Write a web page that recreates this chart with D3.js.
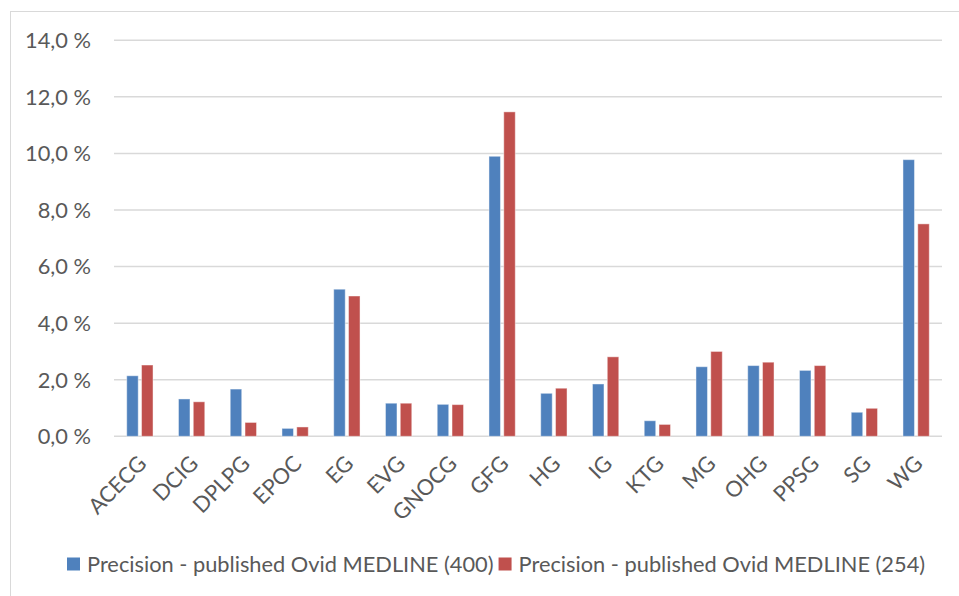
<!DOCTYPE html>
<html>
<head>
<meta charset="utf-8">
<script src="https://cdn.jsdelivr.net/npm/d3@7"></script>
<style>
  html, body { margin: 0; padding: 0; background: #fff; }
  svg { display: block; }
  text { font-family: Lato, "Open Sans", sans-serif; fill: #595959; }
</style>
</head>
<body>
<svg id="chart" width="959" height="596"></svg>
<script>
const categories = ["ACECG","DCIG","DPLPG","EPOC","EG","EVG","GNOCG","GFG","HG","IG","KTG","MG","OHG","PPSG","SG","WG"];
const seriesNames = ["Precision - published Ovid MEDLINE (400)", "Precision - published Ovid MEDLINE (254)"];
const series400 = [2.14, 1.32, 1.67, 0.28, 5.20, 1.17, 1.13, 9.90, 1.52, 1.85, 0.55, 2.46, 2.50, 2.33, 0.85, 9.78];
const series254 = [2.52, 1.22, 0.49, 0.33, 4.96, 1.17, 1.12, 11.47, 1.70, 2.81, 0.42, 3.00, 2.62, 2.50, 0.99, 7.51];
const yTicks = [0, 2, 4, 6, 8, 10, 12, 14];
const colors = ["#4F81BD", "#C0504D"];

const svg = d3.select("#chart");
const plot = { left: 114, right: 942, top: 40.3, bottom: 436.3 };
const FS = 21.8;

// chart area border (top and left visible)
svg.append("rect")
  .attr("x", 10.5).attr("y", 11.5)
  .attr("width", 960).attr("height", 600)
  .attr("fill", "none").attr("stroke", "#D9D9D9").attr("stroke-width", 1);

const y = d3.scaleLinear().domain([0, 14]).range([plot.bottom, plot.top]);
const x0 = d3.scaleBand().domain(categories).range([plot.left, plot.right]).padding(0);
const x1 = d3.scaleBand().domain([0, 1]).range([0, x0.bandwidth()])
  .paddingInner(0.223).paddingOuter(0.86);

// gridlines
svg.append("g").selectAll("line").data(yTicks).join("line")
  .attr("x1", plot.left).attr("x2", plot.right)
  .attr("y1", d => y(d)).attr("y2", d => y(d))
  .attr("stroke", "#D9D9D9").attr("stroke-width", 1.5);

// y labels
const fmt = v => v.toFixed(1).replace(".", ",") + " %";
svg.append("g").selectAll("text").data(yTicks).join("text")
  .attr("x", 91).attr("y", d => y(d)).attr("dy", "0.36em")
  .attr("text-anchor", "end").attr("font-size", FS)
  .text(fmt);

// bars
const data = categories.map((c, i) => ({ c, vals: [series400[i], series254[i]] }));
const groups = svg.append("g").selectAll("g").data(data).join("g")
  .attr("transform", d => `translate(${x0(d.c)},0)`);
groups.selectAll("rect").data(d => d.vals.map((v, k) => ({ v, k }))).join("rect")
  .attr("x", d => x1(d.k))
  .attr("width", x1.bandwidth())
  .attr("y", d => y(d.v))
  .attr("height", d => y(0) - y(d.v))
  .attr("fill", d => colors[d.k])
  .attr("stroke", "#fff").attr("stroke-opacity", 0.45).attr("stroke-width", 1);

// x labels
svg.append("g").selectAll("text").data(categories).join("text")
  .attr("transform", d => `translate(${x0(d) + x0.bandwidth() / 2 + 8},465) rotate(-45)`)
  .attr("text-anchor", "end").attr("font-size", FS)
  .text(d => d);

// legend
const leg = svg.append("g");
let lx = 67;
seriesNames.forEach((name, k) => {
  leg.append("rect").attr("x", lx).attr("y", 557.5).attr("width", 13).attr("height", 13).attr("fill", colors[k]);
  const t = leg.append("text").attr("x", lx + 20).attr("y", 572).attr("font-size", FS).text(name);
  const w = t.node().getComputedTextLength();
  lx = lx + 20 + w + 5;
});
</script>
</body>
</html>
